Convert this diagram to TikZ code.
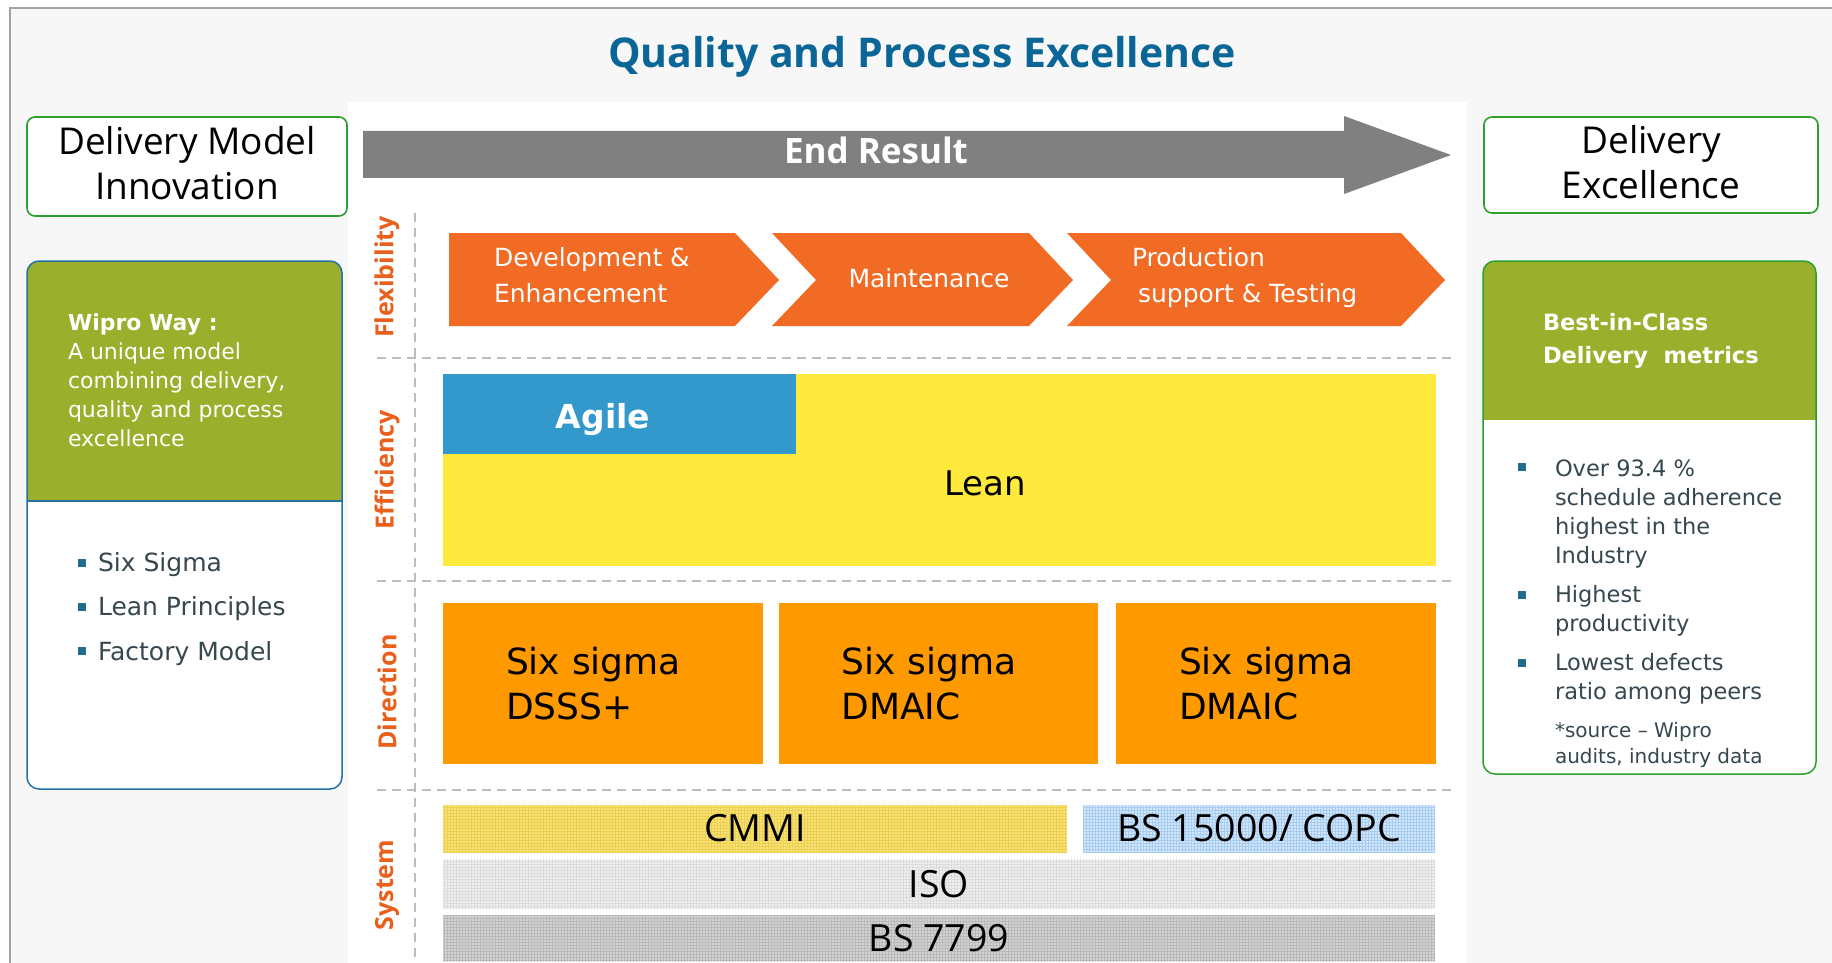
\documentclass[tikz,border=0pt]{standalone}
\usepackage{fontspec}
\setmainfont{Open Sans}
\newfontfamily\verd{DejaVu Sans}
\usetikzlibrary{patterns}

\definecolor{titleblue}{HTML}{0B6698}
\definecolor{frameg}{HTML}{A3A3A3}
\definecolor{bgg}{HTML}{F7F7F7}
\definecolor{boxgreen}{HTML}{2CA02C}
\definecolor{olive}{HTML}{9AB02C}
\definecolor{panelblue}{HTML}{2471A8}
\definecolor{arrowgray}{HTML}{808080}
\definecolor{chevorange}{HTML}{F26B24}
\definecolor{labelorange}{HTML}{E8601C}
\definecolor{agileblue}{HTML}{3399CC}
\definecolor{leanyellow}{HTML}{FFE93C}
\definecolor{dirorange}{HTML}{FF9900}
\definecolor{cmmiyellow}{HTML}{F8E27C}
\definecolor{cmmigrid}{HTML}{EDD04E}
\definecolor{bsblue}{HTML}{D2E6F9}
\definecolor{bsbluegrid}{HTML}{A9CDF0}
\definecolor{isogray}{HTML}{EFEFEF}
\definecolor{isogrid}{HTML}{DCDCDC}
\definecolor{bsgray}{HTML}{D3D3D3}
\definecolor{bsgraygrid}{HTML}{B9B9B9}
\definecolor{slate}{HTML}{36474F}
\definecolor{bulletblue}{HTML}{1F6E8C}
\definecolor{dashg}{HTML}{BDBDBD}

\begin{document}
\begin{tikzpicture}[x=1pt, y=-1pt, every node/.style={inner sep=0pt, outer sep=0pt},
  headbox/.style={draw=boxgreen, line width=1.6pt, rounded corners=8pt, fill=white, align=center, font=\fontsize{37}{45}\selectfont},
  sidelabel/.style={rotate=90, text=labelorange, font=\fontsize{25}{25}\selectfont\bfseries},
  chevtext/.style={align=left, text=white, font=\verd\fontsize{25}{36}\selectfont},
  dirbox/.style={fill=dirorange, minimum width=320pt, minimum height=161pt, text width=194pt, align=left, font=\verd\fontsize{36}{45}\selectfont},
  sysbox/.style={minimum height=47pt, font=\fontsize{37.5}{37}\selectfont},
  sepline/.style={dashg, line width=2pt, dash pattern=on 9pt off 6pt},
  sqmark/.style={fill=bulletblue, minimum size=7.5pt},
  listtext/.style={align=left, text=slate, font=\verd\fontsize{22.5}{29}\selectfont}]
\useasboundingbox (0,0) rectangle (1832,963);
\fill[white] (0,0) rectangle (1832,963);
\fill[bgg] (10,8) rectangle (1832,963);
\draw[frameg, line width=2pt] (10,963) -- (10,8) -- (1832,8);
\fill[white] (348,102) rectangle (1467,963);

% title
\node[anchor=base, text=titleblue, font=\fontsize{41}{41}\selectfont\bfseries] (title) at (922,68) {Quality and Process Excellence};

% head boxes
\node[headbox, minimum width=320pt, minimum height=99pt] (innov) at (187,166.5) {Delivery Model\\Innovation\rule[-7pt]{0pt}{0pt}};
\node[headbox, minimum width=334pt, minimum height=96pt] (delexc) at (1651,165) {Delivery\\Excellence\rule[-7pt]{0pt}{0pt}};

% end result arrow
\fill[arrowgray] (363,131) -- (1344,131) -- (1344,116) -- (1451,155) -- (1344,194) -- (1344,178) -- (363,178) -- cycle;
\node[anchor=base, text=white, font=\fontsize{35}{35}\selectfont\bfseries] (endres) at (876,164) {End Result};

% left panel
\fill[white, rounded corners=12pt] (27,261) rectangle (342,789);
\begin{scope}
\clip[rounded corners=12pt] (27,261) rectangle (342,789);
\fill[olive] (27,261) rectangle (342,501);
\end{scope}
\draw[panelblue, line width=1.5pt, rounded corners=12pt] (27,261) rectangle (342,789);
\draw[panelblue, line width=1.5pt] (27,501) -- (342,501);
\node[anchor=north west, align=left, text=white, font=\verd\fontsize{22}{29}\selectfont] (wipro) at (68,314) {{\bfseries Wipro Way :}\\A unique model\\combining delivery,\\quality and process\\excellence};
\node[sqmark] (sqA) at (82,563) {};
\node[sqmark] (sqB) at (82,607) {};
\node[sqmark] (sqC) at (82,651) {};
\node[anchor=base west, text=slate, font=\verd\fontsize{25}{25}\selectfont] (sixsig) at (98,571) {Six Sigma};
\node[anchor=base west, text=slate, font=\verd\fontsize{25}{25}\selectfont] (leanpr) at (98,615) {Lean Principles};
\node[anchor=base west, text=slate, font=\verd\fontsize{25}{25}\selectfont] (factory) at (98,660) {Factory Model};

% right panel
\fill[white, rounded corners=12pt] (1483,261) rectangle (1816,774);
\begin{scope}
\clip[rounded corners=12pt] (1483,261) rectangle (1816,774);
\fill[olive] (1483,261) rectangle (1816,420);
\end{scope}
\draw[boxgreen, line width=1.5pt, rounded corners=12pt] (1483,261) rectangle (1816,774);
\node[anchor=north west, align=left, text=white, font=\verd\fontsize{22.5}{33}\selectfont\bfseries] (bestcls) at (1543,313) {Best-in-Class\\Delivery\ \ metrics};
\node[sqmark] (sqD) at (1522,467) {};
\node[sqmark] (sqE) at (1522,595) {};
\node[sqmark] (sqF) at (1522,663) {};
\node[listtext, anchor=north west] (sched) at (1555,460) {Over 93.4 \%\\schedule adherence\\highest in the\\Industry};
\node[listtext, anchor=north west] (prod) at (1555,585) {Highest\\productivity};
\node[listtext, anchor=north west] (defect) at (1555,653) {Lowest defects\\ratio among peers};
\node[listtext, anchor=north west, font=\verd\fontsize{20}{26}\selectfont] (source) at (1555,722) {*source – Wipro\\audits, industry data};

% grid lines
\draw[sepline] (415,213) -- (415,963);
\draw[sepline] (377,358) -- (1451,358);
\draw[sepline] (377,581) -- (1451,581);
\draw[sepline] (377,790) -- (1451,790);

\node[sidelabel] (flex) at (387,277) {Flexibility};
\node[sidelabel] (effic) at (387,470) {Efficiency};
\node[sidelabel] (direc) at (387,692) {Direction};
\node[sidelabel] (syst) at (387,885) {System};

% flexibility chevrons
\fill[chevorange] (449,233) -- (735,233) -- (779,280) -- (735,326) -- (449,326) -- cycle;
\fill[chevorange] (772,233) -- (1029,233) -- (1073,280) -- (1029,326) -- (772,326) -- (816,280) -- cycle;
\fill[chevorange] (1067,233) -- (1401,233) -- (1445,280) -- (1401,326) -- (1067,326) -- (1111,280) -- cycle;
\node[chevtext, anchor=north west] (devenh) at (494,248) {Development \&\\Enhancement};
\node[chevtext, anchor=base] (maint) at (929,287) {Maintenance};
\node[chevtext, anchor=north west] (prodsup) at (1132,248) {Production\\\hspace*{6pt}support \& Testing};

% efficiency
\fill[leanyellow] (443,374) rectangle (1436,566);
\fill[agileblue] (443,374) rectangle (796,454);
\node[anchor=base, text=white, font=\verd\fontsize{33}{33}\selectfont\bfseries] (agile) at (603,428) {Agile};
\node[anchor=base, font=\verd\fontsize{34}{34}\selectfont] (lean) at (985,495) {Lean};

% direction
\node[dirbox] (dsss) at (603,683.5) {Six sigma\\DSSS+};
\node[dirbox, minimum width=319pt] (dmaicA) at (938.5,683.5) {Six sigma\\DMAIC};
\node[dirbox] (dmaicB) at (1276,683.5) {Six sigma\\DMAIC};

% system
\node[sysbox, fill=cmmiyellow, postaction={pattern=grid, pattern color=cmmigrid}, minimum width=624pt] (cmmi) at (755,828.5) {CMMI};
\node[sysbox, fill=bsblue, postaction={pattern=grid, pattern color=bsbluegrid}, minimum width=352pt] (copc) at (1259,828.5) {BS 15000/ COPC};
\node[sysbox, fill=isogray, postaction={pattern=grid, pattern color=isogrid}, minimum width=992pt, minimum height=49pt] (iso) at (939,884) {ISO};
\node[sysbox, fill=bsgray, postaction={pattern=grid, pattern color=bsgraygrid}, minimum width=992pt, minimum height=46pt] (bs7799) at (939,938) {BS 7799};
\end{tikzpicture}
\end{document}
